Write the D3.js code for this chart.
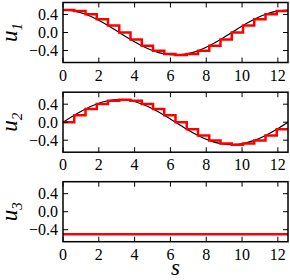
<!DOCTYPE html>
<meta charset="utf-8">
<style>
	body { margin: 0; background: #fff; }
</style>
<body>
<svg id="chart" width="290" height="280"></svg>
<script src="https://d3js.org/d3.v7.min.js"></script>
<script>
	// sample points along s (0 .. 4*pi, steps of pi/5)
	var sVals = [0, 0.628, 1.257, 1.885, 2.513, 3.142, 3.770, 4.398, 5.027, 5.655, 6.283,
		6.912, 7.540, 8.168, 8.796, 9.425, 10.053, 10.681, 11.310, 11.938, 12.566];
	var u1 = [0.5, 0.476, 0.405, 0.294, 0.155, 0, -0.155, -0.294, -0.405, -0.476, -0.5,
		-0.476, -0.405, -0.294, -0.155, 0, 0.155, 0.294, 0.405, 0.476, 0.5];
	var u2 = [0, 0.155, 0.294, 0.405, 0.476, 0.5, 0.476, 0.405, 0.294, 0.155, 0,
		-0.155, -0.294, -0.405, -0.476, -0.5, -0.476, -0.405, -0.294, -0.155, 0];
	var u3 = [-0.5, -0.5, -0.5, -0.5, -0.5, -0.5, -0.5, -0.5, -0.5, -0.5, -0.5,
		-0.5, -0.5, -0.5, -0.5, -0.5, -0.5, -0.5, -0.5, -0.5, -0.5];
	var xTicks = [0, 2, 4, 6, 8, 10, 12];
	var yTicks = [-0.4, 0, 0.4];
	var panels = [{name: "1", vals: u1}, {name: "2", vals: u2}, {name: "3", vals: u3}];

	var svg = d3.select("#chart"),
		left = 63, right = 288,
		tops = [2.5, 92.2, 181.7],
		ph = 60,
		serif = "'Liberation Serif', 'Times New Roman', Times, serif";

	var x = d3.scaleLinear().domain([0, 4 * Math.PI]).range([left, right]);
	var fmt = d3.format(".1f");

	panels.forEach(function(p, i) {
		var top = tops[i];
		var y = d3.scaleLinear().domain([-2/3, 2/3]).range([top + ph, top]);

		var pts = sVals.map(function(s, k) { return [s, p.vals[k]]; });
		// held values: each sample is held until the next one
		var held = pts.slice(0, pts.length - 1);
		held.push([sVals[sVals.length - 1], p.vals[p.vals.length - 2]]);

		var clipId = "clip" + i;
		svg.append("clipPath").attr("id", clipId)
			.append("rect").attr("x", left).attr("y", top).attr("width", right - left).attr("height", ph);

		var g = svg.append("g").attr("clip-path", "url(#" + clipId + ")");

		g.append("path")
			.datum(pts)
			.attr("fill", "none")
			.attr("stroke", "#000")
			.attr("stroke-width", 1.2)
			.attr("d", d3.line().x(function(d) { return x(d[0]); }).y(function(d) { return y(d[1]); }).curve(d3.curveNatural));

		g.append("path")
			.datum(held)
			.attr("fill", "none")
			.attr("stroke", "#ff0000")
			.attr("stroke-width", 2.5)
			.attr("d", d3.line().x(function(d) { return x(d[0]); }).y(function(d) { return y(d[1]); }).curve(d3.curveStepAfter));

		// inward ticks on all four sides
		var tk = svg.append("g").attr("stroke", "#000").attr("stroke-width", 1);
		xTicks.forEach(function(t) {
			tk.append("line").attr("x1", x(t)).attr("x2", x(t)).attr("y1", top + ph).attr("y2", top + ph - 5);
			tk.append("line").attr("x1", x(t)).attr("x2", x(t)).attr("y1", top).attr("y2", top + 5);
		});
		yTicks.forEach(function(t) {
			tk.append("line").attr("x1", left).attr("x2", left + 5).attr("y1", y(t)).attr("y2", y(t));
			tk.append("line").attr("x1", right).attr("x2", right - 5).attr("y1", y(t)).attr("y2", y(t));
		});

		svg.append("rect")
			.attr("x", left).attr("y", top).attr("width", right - left).attr("height", ph)
			.attr("fill", "none").attr("stroke", "#000").attr("stroke-width", 1.5);

		svg.selectAll(null).data(xTicks).enter().append("text")
			.attr("x", function(d) { return x(d); })
			.attr("y", top + ph + 18)
			.attr("text-anchor", "middle")
			.attr("font-family", serif)
			.attr("font-size", 16)
			.text(function(d) { return d; });

		svg.selectAll(null).data(yTicks).enter().append("text")
			.attr("x", left - 5)
			.attr("y", function(d) { return y(d) + 5.5; })
			.attr("text-anchor", "end")
			.attr("font-family", serif)
			.attr("font-size", 16)
			.text(function(d) { return fmt(d); });

		var lab = svg.append("text")
			.attr("transform", "translate(17," + (top + ph / 2) + ") rotate(-90)")
			.attr("text-anchor", "middle")
			.attr("font-family", serif)
			.attr("font-size", 23);
		lab.append("tspan").attr("font-style", "italic").text("u");
		lab.append("tspan").attr("font-style", "italic").attr("font-size", 15).attr("dy", 5).text(p.name);
	});

	svg.append("text")
		.attr("x", (left + right) / 2)
		.attr("y", 275)
		.attr("text-anchor", "middle")
		.attr("font-family", serif)
		.attr("font-size", 23)
		.attr("font-style", "italic")
		.text("s");
</script>
</body>
